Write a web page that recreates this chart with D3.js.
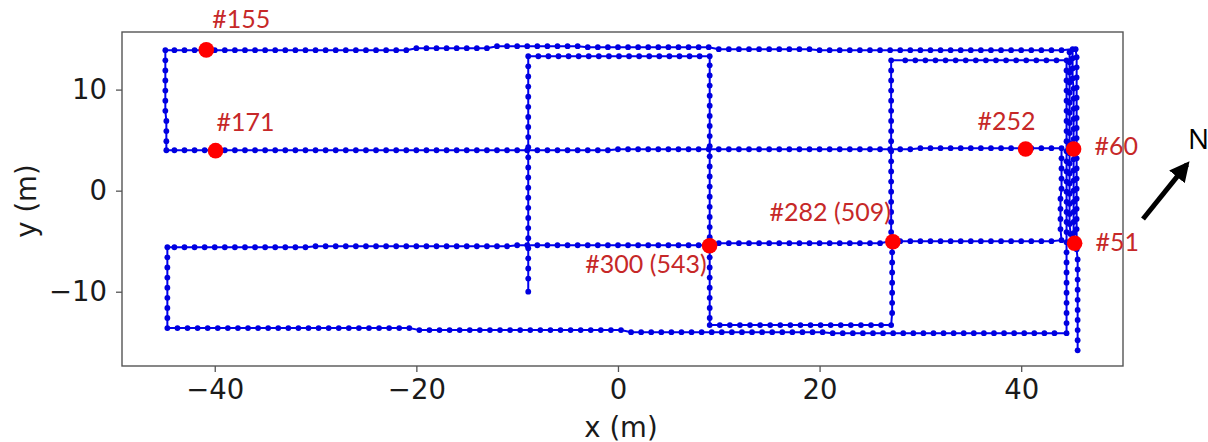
<!DOCTYPE html>
<html>
<head>
<meta charset="utf-8">
<script src="https://cdn.jsdelivr.net/npm/d3@7"></script>
<style>
  html, body { margin: 0; padding: 0; background: #fff; }
  svg { display: block; }
</style>
</head>
<body>
<svg id="chart" width="1208" height="442"></svg>
<script>
// ---------- data (metres) ----------
const xTicks = [-40, -20, 0, 20, 40];
const yTicks = [-10, 0, 10];

// walked trajectory, one sample per step, split into straight legs
const legStartNorth = [[45.6,-15.8],[45.6,-14.8],[45.6,-13.8],[45.6,-12.8],[45.6,-11.8],[45.6,-10.8],[45.6,-9.8],[45.6,-8.8],[45.6,-7.8],[45.6,-6.8],
  [45.5,-5.8],[45.5,-4.8],[45.5,-3.8],[45.5,-2.8],[45.5,-1.8],[45.5,-0.8],[45.5,0.2],[45.5,1.2],[45.5,2.2],[45.5,3.2],
  [45.5,4.2],[45.5,5.2],[45.5,6.2],[45.5,7.2],[45.5,8.2],[45.5,9.2],[45.5,10.2],[45.5,11.2],[45.5,12.2],[45.5,13.2],[45.4,14.0]];
const legEastSouth = [[44.8,13.7],[44.8,12.7],[44.8,11.7],[44.8,10.7],[44.8,9.7],[44.8,8.7],[44.8,7.7],[44.8,6.7],[44.8,5.7],[44.8,4.7],
  [44.8,3.7],[44.8,2.7],[44.8,1.7],[44.8,0.7],[44.8,-0.3],[44.8,-1.3],[44.8,-2.3],[44.8,-3.3],[44.9,-4.3],[45.1,-4.8]];
const legEastNorth = [[45.3,-5.2],[45.2,-4.2],[45.2,-3.1],[45.2,-2.1],[45.2,-1.1],[45.2,0.0],[45.2,1.0],[45.2,2.0],[45.2,3.1],[45.2,4.1],
  [45.2,5.1],[45.2,6.1],[45.2,7.1],[45.2,8.1],[45.2,9.1],[45.2,10.1],[45.1,11.1],[45.1,12.1],[45.1,13.1],[45.1,14.0]];
const legTopWest = [[44,13.9],[43,13.9],[42,13.9],[41,13.9],[40,13.9],[39,13.9],[38,13.9],[37,13.9],[36,13.9],[35,13.9],
  [34,13.9],[33,13.9],[32,13.9],[31,13.9],[30,13.9],[29,13.9],[28,13.9],[27,13.9],[26,13.9],[25,13.9],
  [24,13.9],[23,13.9],[22,13.9],[21,13.9],[20,13.9],[19,14.0],[18,14.0],[17,14.0],[16,14.0],[15,14.0],
  [14,14.0],[13,14.0],[12,14.0],[11,14.0],[10,14.0],[9,14.2],[8,14.2],[7,14.2],[6,14.2],[5,14.2],
  [4,14.2],[3,14.2],[2,14.2],[1,14.2],[0,14.2],[-1,14.2],[-2,14.2],[-3,14.2],[-4,14.3],[-5,14.3],
  [-6,14.3],[-7,14.3],[-8,14.3],[-9,14.3],[-10,14.3],[-11,14.3],[-12,14.3],[-13,14.1],[-14,14.1],[-15,14.1],
  [-16,14.1],[-17,14.1],[-18,14.1],[-19,14.1],[-20,14.1],[-21,13.9],[-22,13.9],[-23,13.9],[-24,13.9],[-25,13.9],
  [-26,13.9],[-27,13.9],[-28,13.9],[-29,13.9],[-30,13.9],[-31,13.9],[-32,13.9],[-33,13.9],[-34,13.9],[-35,13.9],
  [-36,13.9],[-37,13.9],[-38,13.9],[-39,13.9],[-40,13.9],[-41,13.9],[-42,13.9],[-43,13.9],[-44,13.9],[-44.9,13.9]];
const legWestSouth = [[-44.9,12.9],[-44.9,11.9],[-44.9,10.9],[-44.9,9.9],[-44.9,8.9],[-44.9,7.9],[-44.8,6.9],[-44.8,5.9],[-44.8,4.9],[-44.8,4.0]];
const legMidEast = [[-44,4.0],[-43,4.0],[-42,4.0],[-41,4.0],[-40,4.0],[-39,4.0],[-38,4.0],[-37,4.0],[-36,4.0],[-35,4.0],
  [-34,4.0],[-33,4.0],[-32,4.0],[-31,4.0],[-30,4.0],[-29,4.0],[-28,4.0],[-27,4.0],[-26,4.0],[-25,4.0],
  [-24,4.0],[-23,4.0],[-22,4.0],[-21,4.0],[-20,4.0],[-19,4.0],[-18,4.0],[-17,4.0],[-16,4.0],[-15,4.0],
  [-14,4.0],[-13,4.0],[-12,4.0],[-11,4.0],[-10,4.0],[-9,4.0],[-8,4.0],[-7,4.0],[-6,4.0],[-5,4.0],
  [-4,4.0],[-3,4.0],[-2,4.0],[-1,4.0],[0,4.1],[1,4.1],[2,4.1],[3,4.1],[4,4.1],[5,4.1],
  [6,4.1],[7,4.1],[8,4.1],[9,4.1],[10,4.1],[11,4.1],[12,4.1],[13,4.1],[14,4.1],[15,4.1],
  [16,4.1],[17,4.1],[18,4.1],[19,4.1],[20,4.1],[21,4.1],[22,4.1],[23,4.1],[24,4.1],[25,4.1],
  [26,4.1],[27,4.1],[28,4.1],[29,4.1],[30,4.2],[31,4.2],[32,4.2],[33,4.2],[34,4.2],[35,4.2],
  [36,4.2],[37,4.2],[38,4.2],[39,4.2],[40,4.2],[41,4.2],[42,4.2],[43,4.2],[44.0,4.2]];
const legInnerSouth = [[44.0,3.2],[44.0,2.2],[44.0,1.2],[44.0,0.2],[43.9,-0.8],[43.9,-1.8],[43.9,-2.8],[43.9,-3.8],[44.0,-4.9]];
const legLowWest = [[43,-5.0],[42,-5.0],[41,-5.0],[40,-5.0],[39,-5.0],[38,-5.0],[37,-5.0],[36,-5.0],[35,-5.0],[34,-5.0],
  [33,-5.0],[32,-5.0],[31,-5.0],[30,-5.0],[29,-5.0],[28,-5.0],[27,-5.0],[26,-5.2],[25,-5.2],[24,-5.2],
  [23,-5.2],[22,-5.2],[21,-5.2],[20,-5.2],[19,-5.2],[18,-5.2],[17,-5.2],[16,-5.2],[15,-5.2],[14,-5.2],
  [13,-5.2],[12,-5.2],[11,-5.2],[10,-5.2],[9,-5.4],[8,-5.4],[7,-5.4],[6,-5.4],[5,-5.4],[4,-5.4],
  [3,-5.4],[2,-5.4],[1,-5.4],[0,-5.4],[-1,-5.4],[-2,-5.4],[-3,-5.4],[-4,-5.4],[-5,-5.4],[-6,-5.4],
  [-7,-5.4],[-8,-5.4],[-9,-5.4],[-10,-5.4],[-11,-5.5],[-12,-5.5],[-13,-5.5],[-14,-5.5],[-15,-5.5],[-16,-5.5],
  [-17,-5.5],[-18,-5.5],[-19,-5.5],[-20,-5.5],[-21,-5.5],[-22,-5.5],[-23,-5.5],[-24,-5.5],[-25,-5.5],[-26,-5.5],
  [-27,-5.5],[-28,-5.5],[-29,-5.5],[-30,-5.5],[-31,-5.6],[-32,-5.6],[-33,-5.6],[-34,-5.6],[-35,-5.6],[-36,-5.6],
  [-37,-5.6],[-38,-5.6],[-39,-5.6],[-40,-5.6],[-41,-5.6],[-42,-5.6],[-43,-5.6],[-44,-5.6],[-44.7,-5.6]];
const legWestSouth2 = [[-44.7,-6.6],[-44.7,-7.6],[-44.7,-8.6],[-44.7,-9.6],[-44.7,-10.6],[-44.7,-11.6],[-44.7,-12.6],[-44.7,-13.6]];
const legBottomEast = [[-43.7,-13.6],[-42.7,-13.6],[-41.7,-13.6],[-40.7,-13.6],[-39.7,-13.6],[-38.7,-13.6],[-37.7,-13.6],[-36.7,-13.6],[-35.7,-13.6],[-34.7,-13.6],
  [-33.7,-13.6],[-32.7,-13.6],[-31.7,-13.6],[-30.7,-13.6],[-29.7,-13.6],[-28.7,-13.6],[-27.7,-13.6],[-26.7,-13.6],[-25.7,-13.6],[-24.7,-13.6],
  [-23.7,-13.6],[-22.7,-13.6],[-21.7,-13.6],[-20.7,-13.6],[-19.7,-13.8],[-18.7,-13.8],[-17.7,-13.8],[-16.7,-13.8],[-15.7,-13.8],[-14.7,-13.8],
  [-13.7,-13.8],[-12.7,-13.8],[-11.7,-13.8],[-10.7,-13.8],[-9.7,-13.8],[-8.7,-13.8],[-7.7,-13.8],[-6.7,-13.8],[-5.7,-13.8],[-4.7,-13.8],
  [-3.7,-13.8],[-2.7,-13.8],[-1.7,-13.8],[-0.7,-13.8],[0.3,-13.8],[1.3,-14.0],[2.3,-14.0],[3.3,-14.0],[4.3,-14.0],[5.3,-14.0],
  [6.3,-14.0],[7.3,-14.0],[8.3,-14.0],[9.3,-14.0],[10.3,-14.0],[11.3,-14.0],[12.3,-14.0],[13.3,-14.0],[14.3,-14.0],[15.3,-14.0],
  [16.3,-14.0],[17.3,-14.0],[18.3,-14.0],[19.3,-14.0],[20.3,-14.0],[21.3,-14.1],[22.3,-14.1],[23.3,-14.1],[24.3,-14.1],[25.3,-14.1],
  [26.3,-14.1],[27.3,-14.1],[28.3,-14.1],[29.3,-14.1],[30.3,-14.1],[31.3,-14.1],[32.3,-14.1],[33.3,-14.1],[34.3,-14.1],[35.3,-14.1],
  [36.3,-14.1],[37.3,-14.1],[38.3,-14.1],[39.3,-14.1],[40.3,-14.1],[41.3,-14.1],[42.3,-14.1],[43.3,-14.1],[44.5,-14.1]];
const legRightNorth = [[44.5,-13.1],[44.5,-12.1],[44.5,-11.1],[44.5,-10.1],[44.5,-9.1],[44.5,-8.1],[44.5,-7.1],[44.5,-6.1],[44.5,-5.1],[44.5,-4.1],
  [44.5,-3.1],[44.5,-2.1],[44.5,-1.1],[44.5,-0.1],[44.5,0.9],[44.5,1.9],[44.5,2.9],[44.5,3.9],[44.5,4.9],[44.5,5.9],
  [44.5,6.9],[44.5,7.9],[44.5,8.9],[44.5,9.9],[44.5,10.9],[44.5,11.9],[44.5,12.9]];
const legBoxTopWest = [[43.5,12.9],[42.5,12.9],[41.5,12.9],[40.5,12.9],[39.5,12.9],[38.5,12.9],[37.5,12.9],[36.5,12.9],[35.5,12.9],[34.5,12.9],
  [33.5,12.9],[32.5,12.9],[31.5,12.9],[30.5,12.9],[29.5,12.9],[28.5,12.9],[27.1,12.9]];
const legColSouth = [[27.1,11.9],[27.1,10.9],[27.1,9.9],[27.1,8.9],[27.1,7.9],[27.1,6.9],[27.1,5.9],[27.1,4.9],[27.1,3.9],[27.1,2.9],
  [27.1,1.9],[27.1,0.9],[27.1,-0.1],[27.1,-1.1],[27.1,-2.1],[27.1,-3.1],[27.1,-4.1],[27.2,-5.1],[27.2,-6.1],[27.2,-7.1],
  [27.2,-8.1],[27.2,-9.1],[27.2,-10.1],[27.2,-11.1],[27.2,-12.1],[27.1,-13.3]];
const legBoxBottomWest = [[26.1,-13.3],[25.1,-13.3],[24.1,-13.3],[23.1,-13.3],[22.1,-13.3],[21.1,-13.3],[20.1,-13.3],[19.1,-13.3],[18.1,-13.3],[17.1,-13.3],
  [16.1,-13.3],[15.1,-13.3],[14.1,-13.3],[13.1,-13.3],[12.1,-13.3],[11.1,-13.3],[10.1,-13.3],[9.1,-13.3]];
const legColNorth = [[9.1,-12.6],[9.1,-11.6],[9.1,-10.6],[9.1,-9.6],[9.1,-8.6],[9.1,-7.6],[9.1,-6.6],[9.1,-5.6],[9.1,-4.6],[9.1,-3.6],
  [9.1,-2.6],[9.1,-1.6],[9.1,-0.6],[9.1,0.4],[9.1,1.4],[9.1,2.4],[9.1,3.4],[9.1,4.4],[9.1,5.4],[9.1,6.4],
  [9.1,7.4],[9.1,8.4],[9.1,9.4],[9.1,10.4],[9.1,11.4],[9.1,12.4],[9.1,13.3]];
const legBoxTopWest2 = [[8.1,13.3],[7.1,13.3],[6.1,13.3],[5.1,13.3],[4.1,13.3],[3.1,13.3],[2.1,13.3],[1.1,13.3],[0.1,13.3],[-0.9,13.3],
  [-1.9,13.3],[-2.9,13.3],[-3.9,13.3],[-4.9,13.3],[-5.9,13.3],[-6.9,13.3],[-7.9,13.3],[-8.9,13.3]];
const legEndSouth = [[-8.9,12.3],[-8.9,11.3],[-8.9,10.3],[-8.9,9.3],[-8.9,8.3],[-8.9,7.3],[-8.9,6.3],[-8.9,5.3],[-8.9,4.3],[-8.9,3.3],
  [-8.9,2.3],[-8.9,1.3],[-8.9,0.3],[-8.9,-0.7],[-8.9,-1.7],[-8.9,-2.7],[-8.9,-3.7],[-8.9,-4.7],[-8.9,-5.7],[-8.9,-6.7],
  [-8.9,-7.7],[-8.9,-8.7],[-8.9,-10.0]];

// highlighted samples (sample number, with the second pass in brackets)
const markerLabels = ["#51", "#60", "#155", "#171", "#252", "#282 (509)", "#300 (543)"];
const markerX = [45.3, 45.2, -40.84, -39.92, 40.44, 27.27, 9.09];
const markerY = [-5.21, 4.13, 13.93, 3.96, 4.13, -5.05, -5.45];

// ---------- layout ----------
const plot = { left: 122, right: 1123, top: 32, bottom: 366 };
const xDomain = [-49.2, 50.1];
const yDomain = [-17.35, 15.7];
// label offsets (px) and anchors for each highlighted sample
const labelLayout = {
  "#51":        { dx: 21, dy: 8,   anchor: "start" },
  "#60":        { dx: 21, dy: 6,   anchor: "start" },
  "#155":       { dx: 6,  dy: -22, anchor: "start" },
  "#171":       { dx: 1,  dy: -20, anchor: "start" },
  "#252":       { dx: 10, dy: -19, anchor: "end" },
  "#282 (509)": { dx: -2, dy: -21, anchor: "end" },
  "#300 (543)": { dx: -3, dy: 27,  anchor: "end" }
};

const svg = d3.select("#chart");

const x = d3.scaleLinear().domain(xDomain).range([plot.left, plot.right]);
const y = d3.scaleLinear().domain(yDomain).range([plot.bottom, plot.top]);

const track = [].concat(
  legStartNorth, legEastSouth, legEastNorth, legTopWest, legWestSouth,
  legMidEast, legInnerSouth, legLowWest, legWestSouth2, legBottomEast,
  legRightNorth, legBoxTopWest, legColSouth, legBoxBottomWest, legColNorth,
  legBoxTopWest2, legEndSouth
);

// frame
svg.append("rect")
  .attr("x", plot.left).attr("y", plot.top)
  .attr("width", plot.right - plot.left).attr("height", plot.bottom - plot.top)
  .attr("fill", "none").attr("stroke", "#555").attr("stroke-width", 1.4);

// axes
const tickFont = "'DejaVu Sans', sans-serif";
const fmt = d3.format("d");

const xAxis = svg.append("g")
  .attr("transform", `translate(0,${plot.bottom})`)
  .call(d3.axisBottom(x).tickValues(xTicks).tickFormat(fmt).tickSize(6).tickPadding(7));
const yAxis = svg.append("g")
  .attr("transform", `translate(${plot.left},0)`)
  .call(d3.axisLeft(y).tickValues(yTicks).tickFormat(fmt).tickSize(6).tickPadding(9));

[xAxis, yAxis].forEach(g => {
  g.select(".domain").remove();
  g.selectAll(".tick line").attr("stroke", "#555").attr("stroke-width", 1.3);
  g.selectAll(".tick text")
    .attr("fill", "#1a1a1a")
    .style("font-family", tickFont)
    .style("font-size", "27.5px");
});

svg.append("text")
  .attr("x", 621).attr("y", 437)
  .attr("text-anchor", "middle")
  .style("font-family", tickFont).style("font-size", "27.5px")
  .attr("fill", "#1a1a1a")
  .text("x (m)");

svg.append("text")
  .attr("transform", "translate(36,201) rotate(-90)")
  .attr("text-anchor", "middle")
  .style("font-family", tickFont).style("font-size", "27.5px")
  .attr("fill", "#1a1a1a")
  .text("y (m)");

// trajectory
const line = d3.line().x(d => x(d[0])).y(d => y(d[1]));
svg.append("path")
  .datum(track)
  .attr("d", line)
  .attr("fill", "none")
  .attr("stroke", "#0000f0")
  .attr("stroke-width", 2);

svg.append("g")
  .selectAll("circle")
  .data(track)
  .join("circle")
  .attr("cx", d => x(d[0]))
  .attr("cy", d => y(d[1]))
  .attr("r", 2.9)
  .attr("fill", "#0000e0");

// highlighted samples
const markers = markerLabels.map((label, i) => ({ label, mx: markerX[i], my: markerY[i] }));

svg.append("g")
  .selectAll("circle")
  .data(markers)
  .join("circle")
  .attr("cx", d => x(d.mx))
  .attr("cy", d => y(d.my))
  .attr("r", 7.8)
  .attr("fill", "#ff0000");

svg.append("g")
  .selectAll("text")
  .data(markers)
  .join("text")
  .attr("x", d => x(d.mx) + labelLayout[d.label].dx)
  .attr("y", d => y(d.my) + labelLayout[d.label].dy)
  .attr("text-anchor", d => labelLayout[d.label].anchor)
  .style("font-family", "Lato, 'Open Sans', sans-serif")
  .style("font-size", "25px")
  .attr("fill", "#c62828")
  .text(d => d.label);

// north arrow
const arrow = { x1: 1143, y1: 219, x2: 1193, y2: 157 };
svg.append("defs").append("marker")
  .attr("id", "head")
  .attr("viewBox", "0 0 10 10")
  .attr("refX", 8).attr("refY", 5)
  .attr("markerWidth", 4).attr("markerHeight", 4)
  .attr("markerUnits", "strokeWidth")
  .attr("orient", "auto")
  .append("path")
  .attr("d", "M0,0 L10,5 L0,10 Z")
  .attr("fill", "#000");

svg.append("line")
  .attr("x1", arrow.x1).attr("y1", arrow.y1)
  .attr("x2", arrow.x2 - 6).attr("y2", arrow.y2 + 7.4)
  .attr("stroke", "#000").attr("stroke-width", 5)
  .attr("marker-end", "url(#head)");

svg.append("text")
  .attr("x", 1188).attr("y", 149)
  .style("font-family", "'Open Sans', sans-serif")
  .style("font-size", "28px")
  .attr("fill", "#000")
  .text("N");
</script>
</body>
</html>
